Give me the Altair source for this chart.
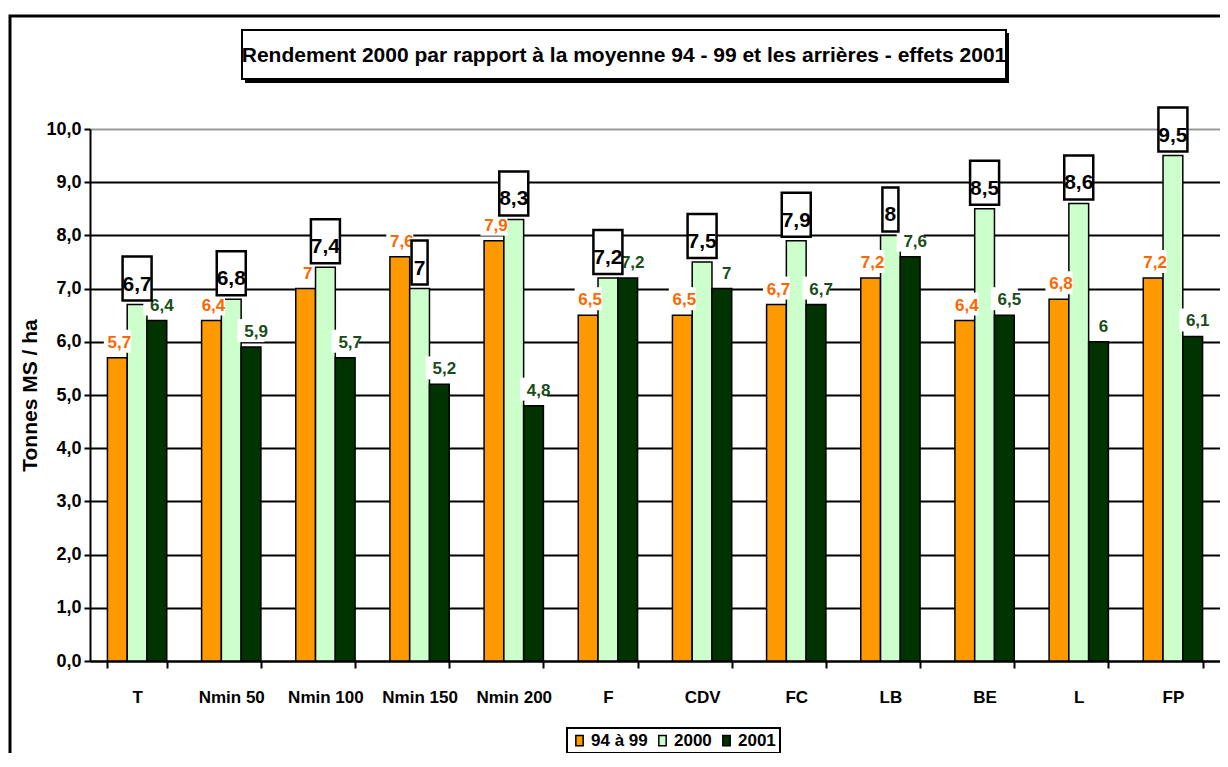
import altair as alt
import pandas as pd

categories = ["T", "Nmin 50", "Nmin 100", "Nmin 150", "Nmin 200", "F", "CDV", "FC", "LB", "BE", "L", "FP"]
series_names = ["94 à 99", "2000", "2001"]
avg_94_99 = [5.7, 6.4, 7.0, 7.6, 7.9, 6.5, 6.5, 6.7, 7.2, 6.4, 6.8, 7.2]
yield_2000 = [6.7, 6.8, 7.4, 7.0, 8.3, 7.2, 7.5, 7.9, 8.0, 8.5, 8.6, 9.5]
yield_2001 = [6.4, 5.9, 5.7, 5.2, 4.8, 7.2, 7.0, 6.7, 7.6, 6.5, 6.0, 6.1]
bar_colors = ["#FF9900", "#CCFFCC", "#003300"]
title_text = "Rendement 2000 par rapport à la moyenne 94 - 99 et les arrières - effets 2001"
y_title = "Tonnes MS / ha"
y_ticks = [0, 1, 2, 3, 4, 5, 6, 7, 8, 9, 10]

FONT = "Liberation Sans, Arial, sans-serif"

rows = []
for s, vals in zip(series_names, [avg_94_99, yield_2000, yield_2001]):
    for c, v in zip(categories, vals):
        rows.append({"cat": c, "serie": s, "v": v})
df = pd.DataFrame(rows)

W, H = 1130, 532

x_enc = alt.X(
    "cat:N", sort=categories,
    scale=alt.Scale(paddingInner=0.37, paddingOuter=0.185),
    axis=alt.Axis(
        title="", labelAngle=0, labelFont=FONT, labelFontSize=17, labelFontWeight="bold",
        labelColor="black", labelPadding=21, tickBand="extent", tickSize=7, tickWidth=2,
        tickColor="black", domainColor="black", domainWidth=2, grid=False,
    ),
)
xo_enc = alt.XOffset("serie:N", sort=series_names, scale=alt.Scale(domain=series_names))
y_enc = alt.Y(
    "v:Q", scale=alt.Scale(domain=[0, 10], nice=False),
    axis=alt.Axis(
        values=y_ticks, title=y_title, titleFont=FONT, titleFontSize=21, titleFontWeight="bold",
        titleColor="black", titlePadding=5,
        labelExpr="replace(format(datum.value, '.1f'), '.', ',')",
        labelFont=FONT, labelFontSize=18, labelFontWeight="bold", labelColor="black",
        labelPadding=3, tickSize=6, tickWidth=2, tickColor="black",
        domainColor="black", domainWidth=2,
        grid=True, gridWidth=2, gridColor=alt.expr("datum.value == 10 ? '#999999' : '#000000'"),
    ),
)

deco = pd.DataFrame({"t": [title_text]})

frame = alt.Chart(deco).mark_rect(fillOpacity=0, stroke="black", strokeWidth=3).encode(
    x=alt.value(-80), x2=alt.value(1400), y=alt.value(-113), y2=alt.value(900)
)
title_shadow = alt.Chart(deco).mark_rect(color="black").encode(
    x=alt.value(155), x2=alt.value(919), y=alt.value(-96), y2=alt.value(-46)
)
title_box = alt.Chart(deco).mark_rect(fill="white", stroke="black", strokeWidth=2).encode(
    x=alt.value(152), x2=alt.value(916), y=alt.value(-99), y2=alt.value(-50)
)
title_lbl = alt.Chart(deco).mark_text(
    font=FONT, fontSize=21, fontWeight="bold", color="black", align="center", baseline="middle"
).encode(text="t:N", x=alt.value(534), y=alt.value(-73))

bars = alt.Chart(df).mark_bar(stroke="black", strokeWidth=1.5).encode(
    x=x_enc, xOffset=xo_enc, y=y_enc,
    color=alt.Color(
        "serie:N", scale=alt.Scale(domain=series_names, range=bar_colors),
        legend=alt.Legend(
            title="", orient="none", legendX=477, legendY=599, direction="horizontal",
            labelFont=FONT, labelFontSize=17, labelFontWeight="bold", labelColor="black",
            symbolType="M-0.7,-1H0.7V1H-0.7Z", symbolSize=110,
            symbolStrokeColor="black", symbolStrokeWidth=1.5, symbolOpacity=1,
            strokeColor="black", padding=4, columnPadding=6, labelOffset=3,
        ),
    ),
)


def label_layers(serie, color, size, dy, dx, bg_off, bg_w1, bg_w2, boxed):
    base = alt.Chart(df).transform_filter(alt.datum.serie == serie).transform_calculate(
        lab="replace(toString(datum.v), '.', ',')"
    ).transform_calculate(
        bw=f"length(datum.lab) > 1 ? {bg_w2} : {bg_w1}"
    )
    if boxed:
        bg = base.mark_bar(fill="white", stroke="black", strokeWidth=2.5,
                           yOffset=bg_off[0], y2Offset=bg_off[1])
    else:
        bg = base.mark_bar(fill="white", yOffset=bg_off[0], y2Offset=bg_off[1], xOffset=dx)
    bg = bg.encode(x=alt.X("cat:N", sort=categories), xOffset=alt.XOffset("serie:N", sort=series_names),
                   y=alt.Y("v:Q"), y2=alt.Y2("v"), size=alt.Size("bw:Q", scale=None, legend=None))
    txt = base.mark_text(
        font=FONT, fontSize=size, fontWeight="bold", color=color, align="center",
        baseline="alphabetic", dy=dy, dx=dx
    ).encode(x=alt.X("cat:N", sort=categories), xOffset=alt.XOffset("serie:N", sort=series_names),
             y=alt.Y("v:Q"), text="lab:N")
    return [bg, txt]


layers = [frame, title_shadow, title_box, title_lbl, bars]
layers += label_layers("94 à 99", "#FF6600", 17, -10, 2, (-28, -5), 13, 27, False)
layers += label_layers("2001", "#1A4D1A", 17, -10, 5, (-28, -5), 13, 27, False)
layers += label_layers("2000", "#000000", 21, -14, 0, (-48, -4), 16, 29, True)

chart = alt.layer(*layers).properties(
    width=W, height=H,
    autosize=alt.AutoSizeParams(type="none"),
    padding={"left": 82, "top": 121, "right": 0, "bottom": 92},
).configure_view(strokeWidth=0).configure_legend(strokeWidth=2)

chart.save("out.html", embed_options={"renderer": "svg", "actions": False})
